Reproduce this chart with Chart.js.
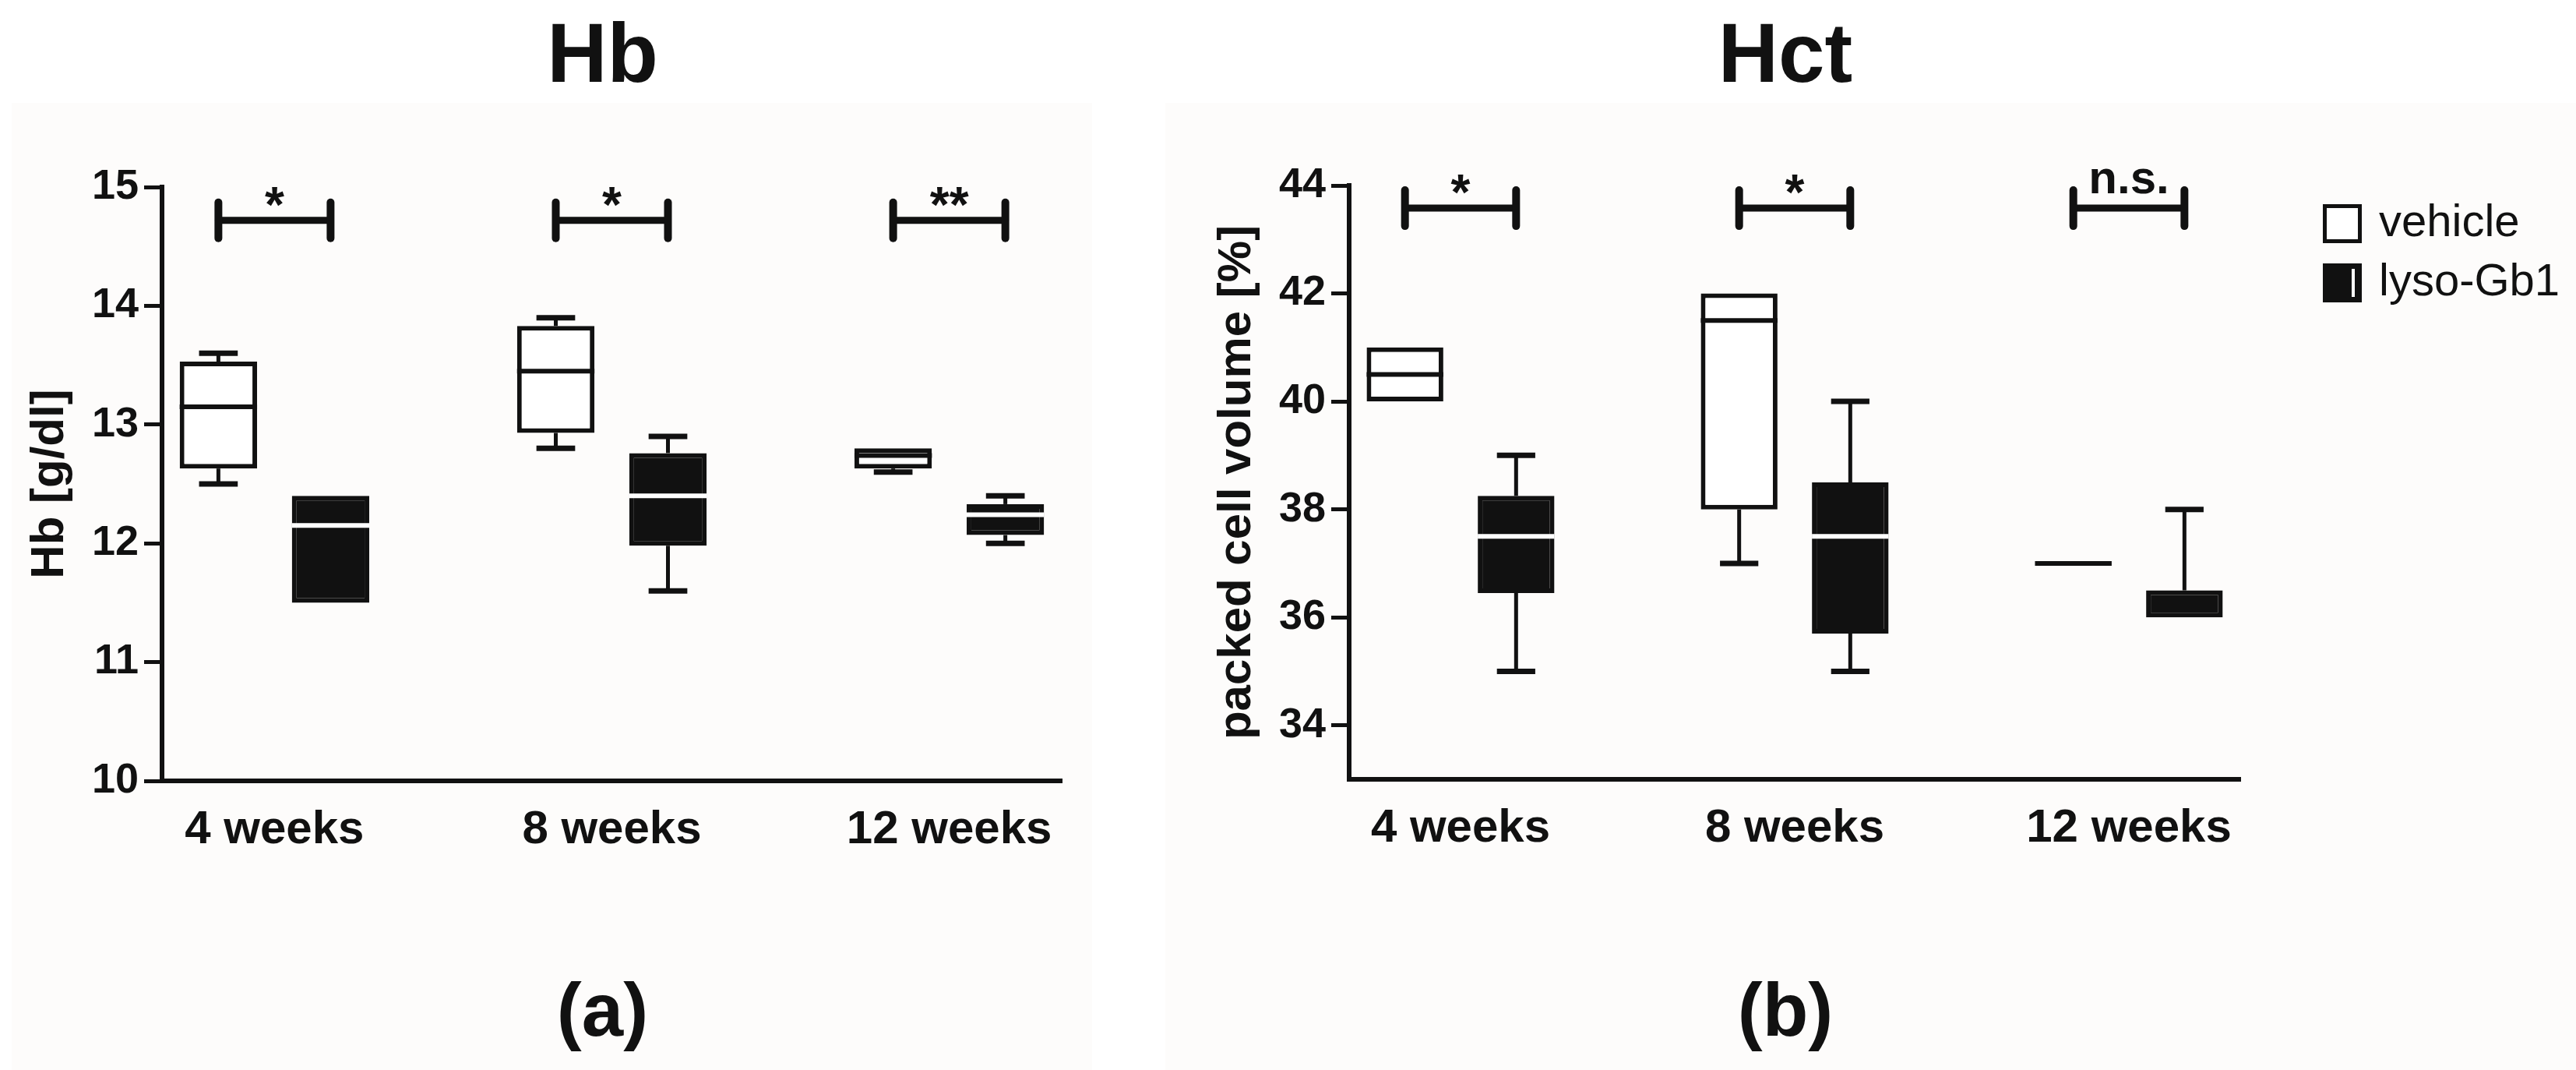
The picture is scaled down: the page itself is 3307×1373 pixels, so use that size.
<!DOCTYPE html>
<html>
<head>
<meta charset="utf-8">
<script src="https://cdn.jsdelivr.net/npm/chart.js@4.4.1/dist/chart.umd.min.js"></script>
<style>
  html, body { margin: 0; padding: 0; background: #fff; }
  #page { position: relative; width: 3307px; height: 1373px; overflow: hidden; background: #fff; }
  .panel { position: absolute; background: #fdfcfb; }
  canvas { position: absolute; top: 0; }
</style>
</head>
<body>
<div id="page">
  <div class="panel" style="left:15px;top:132px;width:1387px;height:1241px"></div>
  <div class="panel" style="left:1496px;top:132px;width:1811px;height:1241px"></div>
  <canvas id="hb" width="1450" height="1373" style="left:0"></canvas>
  <canvas id="hct" width="1857" height="1373" style="left:1450px"></canvas>
</div>
<script>
// categories and groups
const weeks = ['4 weeks', '8 weeks', '12 weeks'];
const groups = ['vehicle', 'lyso-Gb1'];

// Hb [g/dl] - box plot summaries per time point
const hbVehicleMin = [12.5, 12.8, 12.6];
const hbVehicleQ1 = [12.63, 12.93, 12.63];
const hbVehicleMedian = [13.15, 13.45, 12.74];
const hbVehicleQ3 = [13.53, 13.83, 12.8];
const hbVehicleMax = [13.6, 13.9, 12.8];

const hbLysoMin = [11.5, 11.6, 12.0];
const hbLysoQ1 = [11.5, 11.98, 12.07];
const hbLysoMedian = [12.15, 12.4, 12.24];
const hbLysoQ3 = [12.4, 12.76, 12.33];
const hbLysoMax = [12.4, 12.9, 12.4];

const hbTicks = [10, 11, 12, 13, 14, 15];
const hbSignif = ['*', '*', '**'];
const hbSignifLevel = 14.72;

// Hct, packed cell volume [%]
const hctVehicleMin = [40, 37, 37];
const hctVehicleQ1 = [40, 38, 37];
const hctVehicleMedian = [40.5, 41.5, 37];
const hctVehicleQ3 = [41, 42, 37];
const hctVehicleMax = [41, 42, 37];

const hctLysoMin = [35, 35, 36];
const hctLysoQ1 = [36.45, 35.7, 36];
const hctLysoMedian = [37.5, 37.5, 36];
const hctLysoQ3 = [38.25, 38.5, 36.5];
const hctLysoMax = [39, 40, 38];

const hctTicks = [34, 36, 38, 40, 42, 44];
const hctSignif = ['*', '*', 'n.s.'];
const hctSignifLevel = 43.58;

// layout
const INK = '#111';
const FONT = "'Liberation Sans', Arial, Helvetica, sans-serif";
const weekPos = [0.5, 2, 3.5];

function boxSet(label, min, q1, med, q3, max, fill, medianColor) {
  return {
    label: label,
    data: q1.map((v, i) => ({ x: weekPos[i], y: [v, q3[i]] })),
    mins: min,
    medians: med,
    maxs: max,
    medianColor: medianColor,
    backgroundColor: fill,
    borderColor: INK,
    borderWidth: 6,
    borderSkipped: false,
    categoryPercentage: 0.665,
    barPercentage: 0.69
  };
}

// whiskers + median lines, drawn through the y scale
const boxParts = {
  id: 'boxParts',
  afterDatasetsDraw(chart) {
    const ctx = chart.ctx;
    const y = chart.scales.y;
    const seg = (x0, y0, x1, y1) => { ctx.beginPath(); ctx.moveTo(x0, y0); ctx.lineTo(x1, y1); ctx.stroke(); };
    chart.data.datasets.forEach((ds, d) => {
      chart.getDatasetMeta(d).data.forEach((bar, i) => {
        const lo = ds.data[i].y[0], hi = ds.data[i].y[1];
        const half = bar.width / 2, cap = bar.width * 0.25;
        ctx.save();
        ctx.strokeStyle = INK;
        if (ds.maxs[i] > hi) {
          const yt = y.getPixelForValue(ds.maxs[i]);
          ctx.lineWidth = 5;
          seg(bar.x, y.getPixelForValue(hi), bar.x, yt);
          ctx.lineWidth = 7;
          seg(bar.x - cap, yt, bar.x + cap, yt);
        }
        if (ds.mins[i] < lo) {
          const yb = y.getPixelForValue(ds.mins[i]);
          ctx.lineWidth = 5;
          seg(bar.x, y.getPixelForValue(lo), bar.x, yb);
          ctx.lineWidth = 7;
          seg(bar.x - cap, yb, bar.x + cap, yb);
        }
        const m = ds.medians[i];
        const onEdge = (m === lo || m === hi);
        if (!(onEdge && ds.medianColor !== INK)) {
          const ym = y.getPixelForValue(m);
          ctx.strokeStyle = ds.medianColor;
          ctx.lineWidth = 6;
          seg(bar.x - half, ym, bar.x + half, ym);
        }
        ctx.restore();
      });
    });
  }
};

// significance brackets between the two boxes of each time point
const signif = {
  id: 'signif',
  afterDraw(chart, args, o) {
    const ctx = chart.ctx;
    const yp = chart.scales.y.getPixelForValue(o.level);
    const m0 = chart.getDatasetMeta(0), m1 = chart.getDatasetMeta(1);
    ctx.save();
    ctx.strokeStyle = INK;
    ctx.fillStyle = INK;
    ctx.lineCap = 'round';
    o.labels.forEach((txt, i) => {
      const x0 = m0.data[i].x, x1 = m1.data[i].x;
      ctx.lineWidth = 9;
      ctx.beginPath(); ctx.moveTo(x0, yp); ctx.lineTo(x1, yp); ctx.stroke();
      ctx.lineWidth = 10;
      ctx.beginPath(); ctx.moveTo(x0, yp - 23); ctx.lineTo(x0, yp + 23); ctx.stroke();
      ctx.beginPath(); ctx.moveTo(x1, yp - 23); ctx.lineTo(x1, yp + 23); ctx.stroke();
      ctx.textAlign = 'center';
      ctx.textBaseline = 'alphabetic';
      if (txt.indexOf('*') === 0) {
        ctx.font = 'bold 64px ' + FONT;
        ctx.fillText(txt, (x0 + x1) / 2, yp + 2);
      } else {
        ctx.font = 'bold 60px ' + FONT;
        ctx.fillText(txt, (x0 + x1) / 2, yp - 19);
      }
    });
    ctx.restore();
  }
};

// panel heading and letter
const panelText = {
  id: 'panelText',
  afterDraw(chart, args, o) {
    const ctx = chart.ctx;
    const a = chart.chartArea;
    const cx = (a.left + a.right) / 2 - 12;
    ctx.save();
    ctx.fillStyle = INK;
    ctx.textAlign = 'center';
    ctx.textBaseline = 'alphabetic';
    ctx.font = 'bold 107px ' + FONT;
    ctx.fillText(o.title, cx, 105);
    ctx.font = 'bold 96px ' + FONT;
    ctx.fillText(o.letter, cx, 1329);
    ctx.restore();
  }
};

// legend drawn at the right of the Hct panel
const sideLegend = {
  id: 'sideLegend',
  afterDraw(chart, args, o) {
    if (!o.show) return;
    const ctx = chart.ctx;
    ctx.save();
    chart.data.datasets.forEach((ds, d) => {
      const bx = o.x, by = o.y + d * o.step, s = o.box;
      ctx.fillStyle = ds.backgroundColor;
      ctx.fillRect(bx, by, s, s);
      ctx.strokeStyle = INK;
      ctx.lineWidth = 5;
      ctx.strokeRect(bx + 2.5, by + 2.5, s - 5, s - 5);
      if (ds.medianColor !== INK) {
        ctx.strokeStyle = ds.medianColor;
        ctx.lineWidth = 4;
        ctx.beginPath(); ctx.moveTo(bx + s * 0.78, by + 7); ctx.lineTo(bx + s * 0.78, by + s - 7); ctx.stroke();
      }
      ctx.fillStyle = INK;
      ctx.font = '58px ' + FONT;
      ctx.textAlign = 'left';
      ctx.textBaseline = 'middle';
      ctx.fillText(ds.label, bx + 72, by + s / 2);
    });
    ctx.restore();
  }
};

function makeChart(id, c) {
  return new Chart(document.getElementById(id), {
    type: 'bar',
    data: { datasets: c.datasets },
    options: {
      responsive: false,
      animation: false,
      devicePixelRatio: 1,
      layout: { padding: c.padding },
      plugins: {
        legend: { display: false },
        tooltip: { enabled: false },
        signif: { labels: c.signif, level: c.level },
        panelText: { title: c.title, letter: c.letter },
        sideLegend: c.legend
      },
      scales: {
        x: {
          type: 'linear',
          min: 0,
          max: 4,
          offset: false,
          afterBuildTicks: s => { s.ticks = weekPos.map(v => ({ value: v })); },
          afterFit: s => { s.height = 150; },
          grid: { display: false, drawTicks: false },
          border: { display: true, color: INK, width: 6 },
          ticks: {
            autoSkip: false,
            maxRotation: 0,
            padding: 27,
            color: INK,
            font: { family: FONT, size: 60, weight: 'bold' },
            callback: (v, i) => weeks[i]
          }
        },
        y: {
          min: c.yMin,
          max: c.yMax,
          afterBuildTicks: s => { s.ticks = c.yTicks.map(v => ({ value: v })); },
          afterFit: s => { s.width = c.yWidth; },
          grid: { drawOnChartArea: false, drawTicks: true, tickLength: 23, tickWidth: 5, tickColor: INK },
          border: { display: true, color: INK, width: 6 },
          ticks: { padding: 7, color: INK, font: { family: FONT, size: 54, weight: 'bold' } },
          title: {
            display: true,
            text: c.yTitle,
            color: INK,
            font: { family: FONT, size: 60, weight: 'bold' },
            padding: { top: c.titlePad, bottom: 0 }
          }
        }
      }
    },
    plugins: [boxParts, signif, panelText, sideLegend]
  });
}

makeChart('hb', {
  datasets: [
    boxSet(groups[0], hbVehicleMin, hbVehicleQ1, hbVehicleMedian, hbVehicleQ3, hbVehicleMax, '#ffffff', INK),
    boxSet(groups[1], hbLysoMin, hbLysoQ1, hbLysoMedian, hbLysoQ3, hbLysoMax, INK, '#ffffff')
  ],
  padding: { left: 0, top: 240, right: 87, bottom: 221 },
  yMin: 10, yMax: 15, yTicks: hbTicks, yWidth: 208, titlePad: 28,
  yTitle: 'Hb [g/dl]',
  signif: hbSignif, level: hbSignifLevel,
  title: 'Hb', letter: '(a)',
  legend: { show: false }
});

makeChart('hct', {
  datasets: [
    boxSet(groups[0], hctVehicleMin, hctVehicleQ1, hctVehicleMedian, hctVehicleQ3, hctVehicleMax, '#ffffff', INK),
    boxSet(groups[1], hctLysoMin, hctLysoQ1, hctLysoMedian, hctLysoQ3, hctLysoMax, INK, '#ffffff')
  ],
  padding: { left: 80, top: 238, right: 431, bottom: 223 },
  yMin: 33, yMax: 44, yTicks: hctTicks, yWidth: 202, titlePad: 22,
  yTitle: 'packed cell volume [%]',
  signif: hctSignif, level: hctSignifLevel,
  title: 'Hct', letter: '(b)',
  legend: { show: true, x: 1532, y: 262, step: 76, box: 50 }
});
</script>
</body>
</html>
